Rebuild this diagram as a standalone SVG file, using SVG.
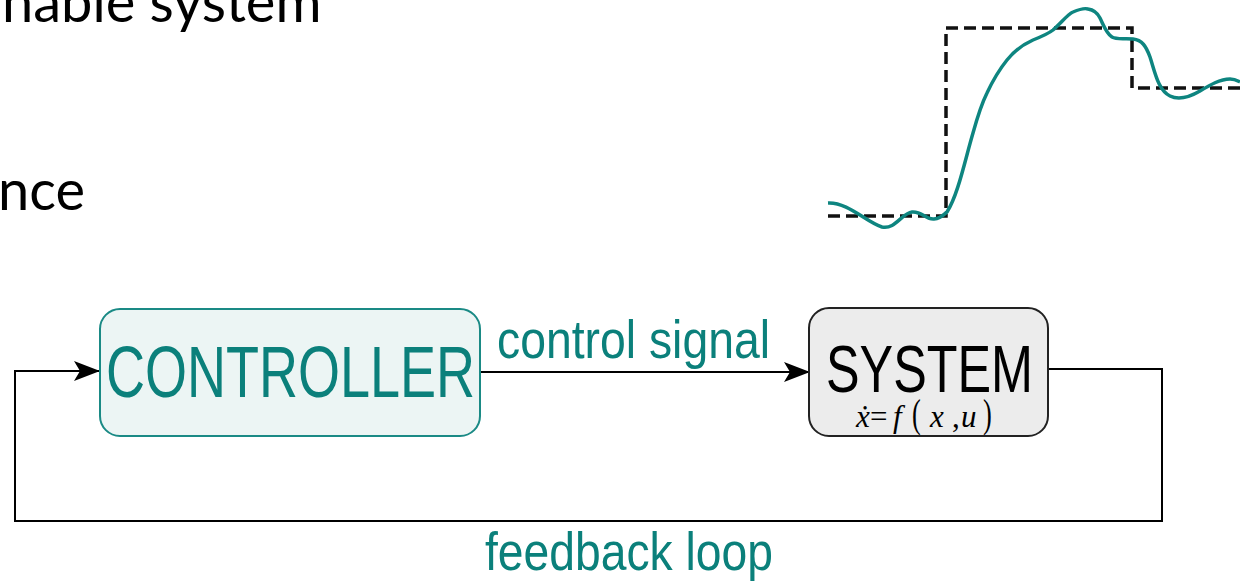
<svg xmlns="http://www.w3.org/2000/svg" width="1240" height="582" viewBox="0 0 1240 582">
  <style>
    .slide { font-family: Lato, "Open Sans", sans-serif; font-size: 56px; fill: #000; }
    .teal { font-family: "Liberation Sans Narrow", "Liberation Sans", Arial, sans-serif; fill: #0b807b; }
    .conn { fill: none; stroke: #000; stroke-width: 2; }
    .math { font-family: "Liberation Serif", "DejaVu Serif", serif; fill: #000; font-size: 31px; }
    .it { font-style: italic; }
  </style>
  <defs>
    <marker id="arrow" viewBox="0 0 26 20" refX="26" refY="10" markerWidth="26" markerHeight="20" markerUnits="userSpaceOnUse" orient="auto">
      <path d="M0,0 L26,10 L0,20 L6,10 Z" fill="#000"/>
    </marker>
  </defs>
  <rect width="1240" height="582" fill="#fff"/>

  <g id="slide-text">
    <text class="slide" x="2" y="22">nable system</text>
    <text class="slide" x="-2" y="210" font-size="54">nce</text>
  </g>

  <g id="step-plot">
    <path d="M828,216 H946 V28 H1132 V88 H1240" fill="none" stroke="#111" stroke-width="3.5" stroke-dasharray="12,6"/>
    <path d="M828,203 C848,202 866,222 882,227 C895,230 902,213 912,212 C922,211 926,220 934,219 C942,218 944,214 947,212 C958,195 965,160 973,133 C978,115 982,103 987,93 C993,80 999,70 1007,60 C1015,50 1024,44 1033,40 C1043,36 1048,34 1053,30 C1062,22 1068,14 1073,12 C1080,9 1085,8 1088,9 C1095,10 1098,14 1100,18 C1104,26 1106,33 1112,37 C1117,40 1125,38 1133,39 C1142,40 1146,46 1150,57 C1155,72 1158,90 1170,96 C1178,100 1188,98 1200,91 C1210,85 1220,79 1230,79 C1235,79 1238,81 1240,82" fill="none" stroke="#0e8580" stroke-width="3.5"/>
  </g>

  <g id="connectors">
    <path class="conn" d="M480,372 H810" marker-end="url(#arrow)"/>
    <path class="conn" d="M1048,369 H1162 V521 H15 V371 H100" marker-end="url(#arrow)"/>
    <text class="teal" x="497" y="358" font-size="54" textLength="273" lengthAdjust="spacingAndGlyphs">control signal</text>
    <text class="teal" x="485" y="570" font-size="54" textLength="288" lengthAdjust="spacingAndGlyphs">feedback loop</text>
  </g>

  <g id="controller">
    <rect x="100" y="309" width="380" height="127" rx="20" ry="20" fill="#ecf5f4" stroke="#1a8a85" stroke-width="2"/>
    <text class="teal" x="106" y="397" font-size="72" textLength="369" lengthAdjust="spacingAndGlyphs">CONTROLLER</text>
  </g>

  <g id="system">
    <rect x="809" y="308" width="239" height="128" rx="20" ry="20" fill="#ececec" stroke="#222" stroke-width="2"/>
    <text class="teal" x="826" y="392" font-size="66" style="fill:#000" textLength="207" lengthAdjust="spacingAndGlyphs">SYSTEM</text>
    <text class="math" y="427"><tspan class="it" x="856">ẋ</tspan><tspan x="870">=</tspan><tspan class="it" x="893">f</tspan><tspan class="it" x="930">x</tspan><tspan x="952">,</tspan><tspan class="it" x="961">u</tspan></text>
    <text class="math" transform="translate(912,427) scale(0.85,1.3)">(</text>
    <text class="math" transform="translate(983,427) scale(0.85,1.3)">)</text>
  </g>
</svg>
